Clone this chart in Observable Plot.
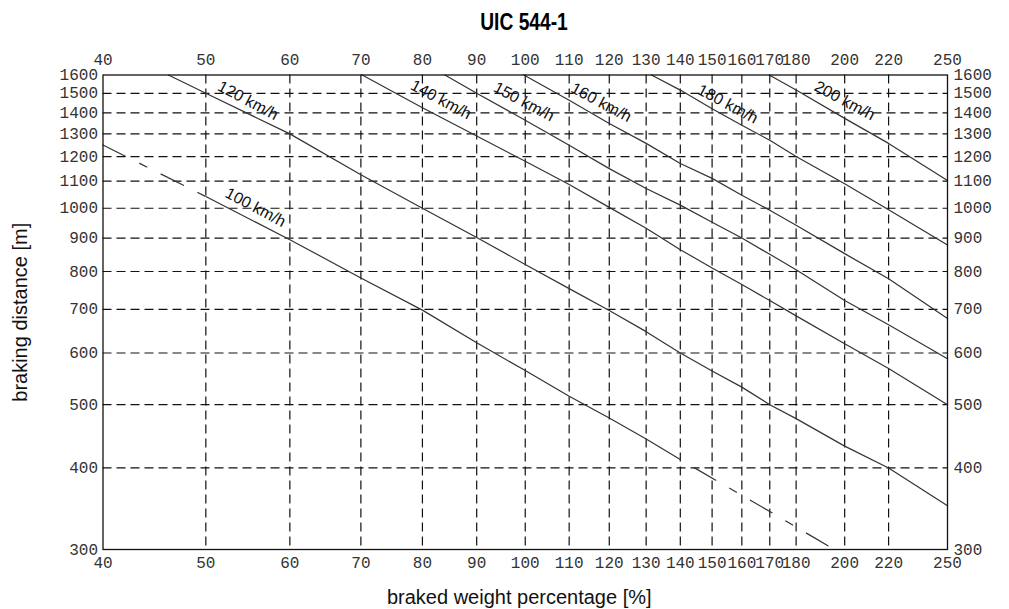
<!DOCTYPE html>
<html><head><meta charset="utf-8">
<script src="https://cdn.jsdelivr.net/npm/d3@7"></script>
<script src="https://cdn.jsdelivr.net/npm/@observablehq/plot@0.6"></script>
<style>
body{margin:0;background:#fff;}
#wrap{position:relative;width:1009px;height:609px;}
#title{position:absolute;left:524px;top:8px;transform:translateX(-50%) scaleX(0.8);white-space:nowrap;font-family:"Liberation Sans",Arial,sans-serif;font-weight:bold;font-size:24px;line-height:28px;color:#000;}
#chart{position:absolute;left:0;top:40px;}
</style></head><body>
<div id="wrap"><div id="title">UIC 544-1</div><div id="chart"></div></div>
<script>
// axis ticks
const xTicks = [40,50,60,70,80,90,100,110,120,130,140,150,160,170,180,200,220,250];
const yTicks = [300,400,500,600,700,800,900,1000,1100,1200,1300,1400,1500,1600];

// curves: braked weight percentage [%] -> braking distance [m]
const speeds = ["100 km/h","120 km/h","140 km/h","150 km/h","160 km/h","180 km/h","200 km/h"];
const bw100 = [50,60,70,80,90,100,110,120,130,140];
const dist100 = [1042,895,782,698,622,564,515,477,443,412];
const bw100Low = [40,50];
const dist100Low = [1250,1042];
const bw100High = [140,170,195.5];
const dist100High = [412,343,300];
const bw120 = [46.1,50,60,70,80,90,100,110,120,130,140,150,160,170,180,200,220,250];
const dist120 = [1600,1500,1300,1125,1000,902,820,753,697,647,600,563,532,500,476,432,400,350];
const bw140 = [70.2,80,90,100,110,120,130,140,150,160,170,180,200,220,250];
const dist140 = [1600,1425,1290,1180,1087,1003,932,864,810,764,722,684,620,568,500];
const bw150 = [84,90,100,110,120,130,140,150,160,170,180,200,220,250];
const dist150 = [1600,1500,1364,1249,1150,1072,1011,952,900,850,805,722,663,588];
const bw160 = [99.7,110,120,130,140,150,160,170,180,200,220,250];
const dist160 = [1600,1464,1348,1257,1171,1111,1047,993,942,852,780,678];
const bw180 = [131.5,140,150,160,170,180,200,220,250];
const dist180 = [1600,1517,1420,1340,1271,1200,1090,995,878];
const bw200 = [169.8,180,200,220,250];
const dist200 = [1600,1517,1373,1257,1103];

// curve label anchor points (braked weight %, distance m), same order as speeds
const labelBw = [55.7,54.8,83.3,99.7,117.9,155.2,200];
const labelDist = [1003,1462,1466,1456,1452,1444,1461];

const series = [
  [speeds[0], bw100, dist100],
  [speeds[1], bw120, dist120],
  [speeds[2], bw140, dist140],
  [speeds[3], bw150, dist150],
  [speeds[4], bw160, dist160],
  [speeds[5], bw180, dist180],
  [speeds[6], bw200, dist200]
];
const curves = series.flatMap(([s, b, d]) => b.map((v, i) => ({speed: s, bw: v, dist: d[i]})));
const dashLow = bw100Low.map((v, i) => ({bw: v, dist: dist100Low[i]}));
const dashHigh = bw100High.map((v, i) => ({bw: v, dist: dist100High[i]}));
const labels = speeds.map((s, i) => ({speed: s, bw: labelBw[i], dist: labelDist[i]}));

const gridStyle = {stroke: "#111", strokeOpacity: 1, strokeWidth: 1.2, strokeDasharray: "9,5"};
const tickStyle = {tickSize: 0, tickFormat: d => String(d), label: null, fill: "#333", fontFamily: "'Liberation Mono', monospace", fontSize: 16};

const chart = Plot.plot({
  width: 1009, height: 569,
  marginTop: 34.5, marginBottom: 60, marginLeft: 102.5, marginRight: 62,
  style: {background: "#fff", fontFamily: "'Liberation Mono', monospace", fontSize: "16px", color: "#333", overflow: "visible"},
  x: {type: "log", domain: [40, 250]},
  y: {type: "log", domain: [300, 1600]},
  marks: [
    Plot.gridX(xTicks.slice(1, -1), gridStyle),
    Plot.gridY(yTicks.slice(1, -1), gridStyle),
    Plot.line(curves, {x: "bw", y: "dist", z: "speed", stroke: "#333", strokeWidth: 1.2}),
    Plot.line(dashLow, {x: "bw", y: "dist", stroke: "#333", strokeWidth: 1.2, strokeDasharray: "25,16,8,16"}),
    Plot.line(dashHigh, {x: "bw", y: "dist", stroke: "#333", strokeWidth: 1.2, strokeDasharray: "25,16,8,16", strokeDashoffset: 49}),
    Plot.frame({stroke: "#111", strokeWidth: 1.3}),
    Plot.axisX(xTicks, {anchor: "bottom", tickPadding: 7, ...tickStyle}),
    Plot.axisX(xTicks, {anchor: "top", tickPadding: 10, ...tickStyle}),
    Plot.axisY(yTicks, {anchor: "left", tickPadding: 5, ...tickStyle}),
    Plot.axisY(yTicks, {anchor: "right", tickPadding: 6, ...tickStyle}),
    Plot.text(labels, {x: "bw", y: "dist", text: "speed", rotate: 28, fontFamily: "'Liberation Sans', Arial, sans-serif", fontSize: 16, fill: "#111"}),
    Plot.text(["braked weight percentage [%]"], {frameAnchor: "bottom", dy: 48, dx: -6, textAnchor: "middle", lineAnchor: "middle", fontFamily: "'Liberation Sans', Arial, sans-serif", fontSize: 20, fill: "#111"}),
    Plot.text(["braking distance [m]"], {frameAnchor: "left", dx: -82.5, rotate: -90, textAnchor: "middle", lineAnchor: "middle", fontFamily: "'Liberation Sans', Arial, sans-serif", fontSize: 20, fill: "#111"})
  ]
});
document.getElementById("chart").appendChild(chart);
</script></body></html>
